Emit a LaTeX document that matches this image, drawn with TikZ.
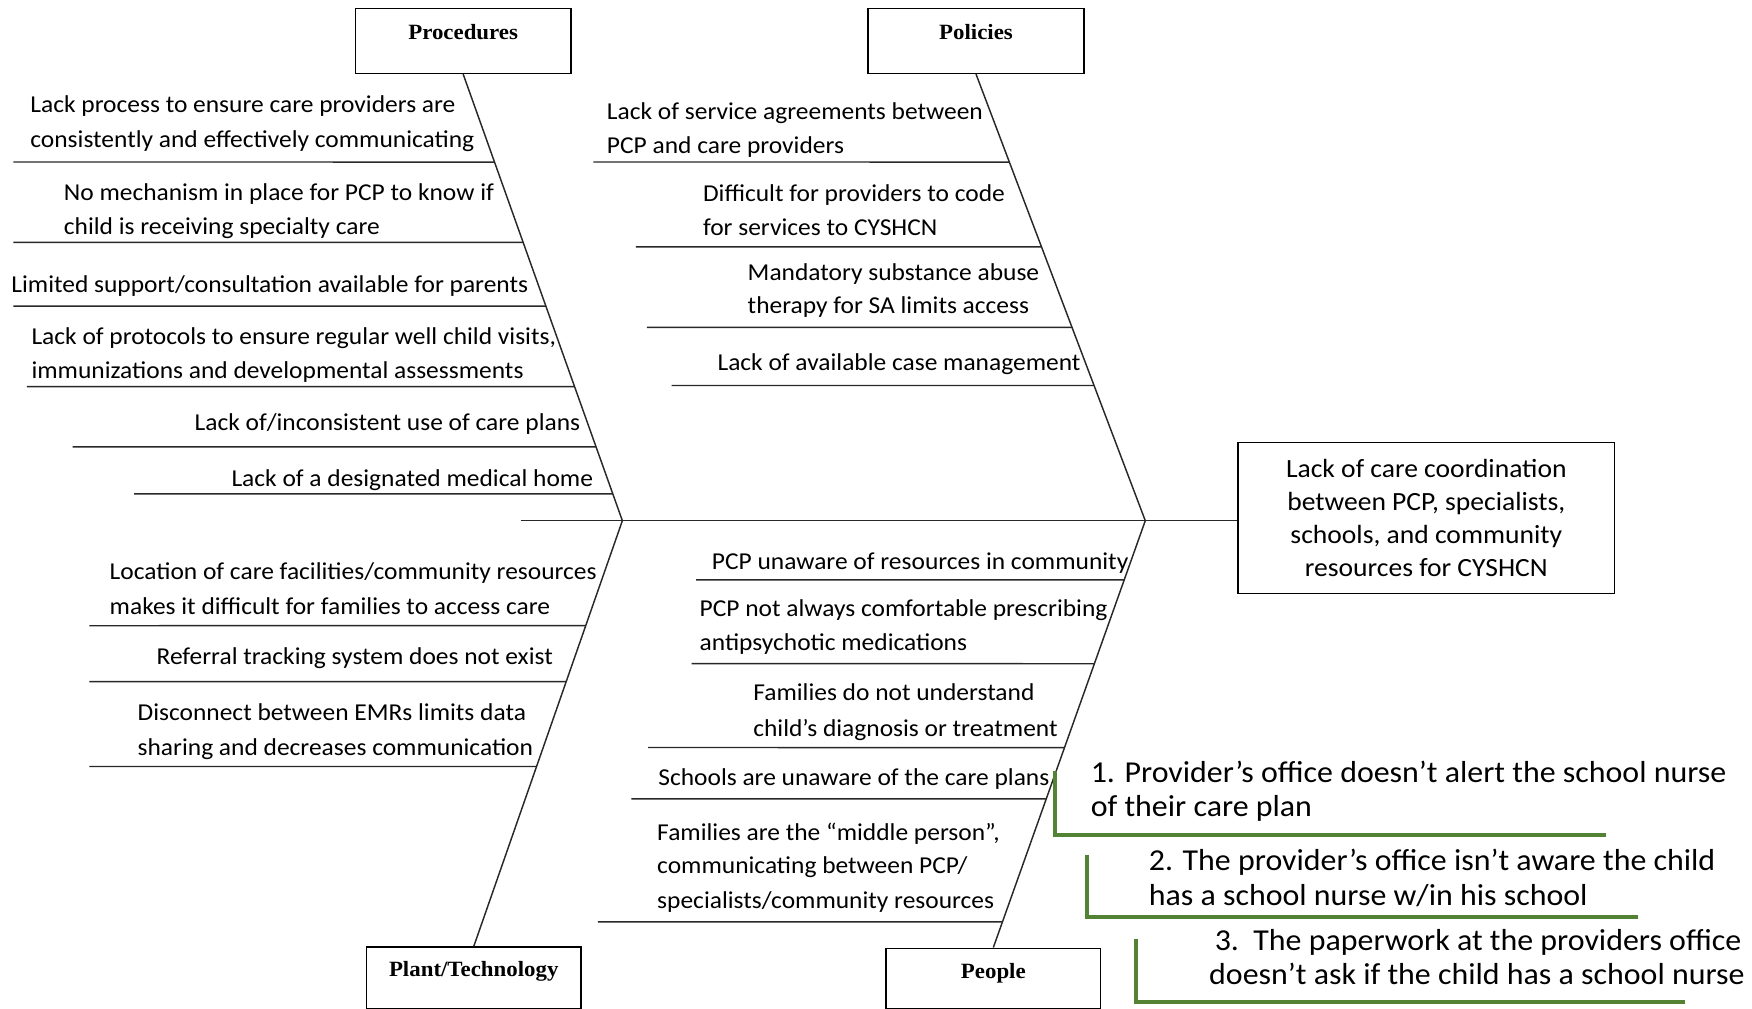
\documentclass[tikz,border=0pt]{standalone}
\usepackage{fontspec}
\setmainfont{Carlito}[FakeStretch=1.05]
\newfontfamily\tnrfont{Liberation Serif}[FakeStretch=1.05]
\definecolor{gannot}{RGB}{84,130,53}
\definecolor{boneclr}{RGB}{40,40,40}
\tikzset{
  bone/.style={line width=1.3pt, draw=boneclr},
  subline/.style={line width=1.3pt, draw=boneclr},
  txt/.style={anchor=base west, inner sep=0pt, font=\fontsize{21.7}{26}\selectfont},
  gtxt/.style={anchor=base west, inner sep=0pt, font=\fontsize{27.2}{31}\selectfont},
  catbox/.style={draw=black, line width=1.3pt, minimum width=193pt, inner xsep=0pt, inner ysep=0pt, anchor=north,
    font=\tnrfont\bfseries\fontsize{19.5}{22}\selectfont},
  gline/.style={draw=gannot, line width=3.8pt},
}
\begin{document}
\begin{tikzpicture}[x=1pt,y=-1pt]
\useasboundingbox (0,0) rectangle (1568,903);
\fill[white] (0,0) rectangle (1568,903);

% category boxes
\node[catbox, text height=27.5pt, text depth=30.5pt] (proc) at (414.5,7) {Procedures};
\node[catbox, text height=27.5pt, text depth=30.5pt] (pol) at (873.5,7) {Policies};
\node[catbox, minimum width=192pt, text height=26.5pt, text depth=29pt] (plant) at (424,847) {Plant/Technology};
\node[catbox, minimum width=192pt, text height=27.5pt, text depth=26.5pt] (people) at (889,848) {People};

% effect box
\node[draw=black, line width=1.3pt, minimum width=337pt, minimum height=135pt, align=center,
  font=\fontsize{23.5}{29.5}\selectfont] (eff) at (1276.5,463.5)
  {Lack of care coordination\\between PCP, specialists,\\schools, and community\\resources for CYSHCN};

% spine and bones
\coordinate (tail) at (466,466);
\coordinate (J1) at (557,466);
\coordinate (J2) at (1025,466);
\draw[bone] (tail) -- (tail -| eff.west);
\draw[bone] (proc.south) -- (J1);
\draw[bone] (pol.south) -- (J2);
\draw[bone] (plant.north) -- (J1);
\draw[bone] (people.north) -- (J2);

% sub lines
\foreach \y/\x [count=\i] in {145/12,217/12,274/12,346/24,400/65,442/120}{
  \coordinate (pa\i) at (\x,\y);
  \draw[subline] (pa\i) -- (intersection of proc.south--J1 and {0,\y}--{1,\y});
}
\foreach \y/\x [count=\i] in {145/531,221/569,293/579,345/601}{
  \coordinate (pb\i) at (\x,\y);
  \draw[subline] (pb\i) -- (intersection of pol.south--J2 and {0,\y}--{1,\y});
}
\foreach \y/\x [count=\i] in {560/80,610/80,686/80}{
  \coordinate (pc\i) at (\x,\y);
  \draw[subline] (pc\i) -- (intersection of plant.north--J1 and {0,\y}--{1,\y});
}
\foreach \y/\x [count=\i] in {519/623,594/619,669/580,715/565,825/535}{
  \coordinate (pd\i) at (\x,\y);
  \draw[subline] (pd\i) -- (intersection of people.north--J2 and {0,\y}--{1,\y});
}

% procedures causes
\node[txt] (a1a) at (27,101) {Lack process to ensure care providers are};
\node[txt] (a1b) at (27,132) {consistently and effectively communicating};
\node[txt] (a2a) at (57,179) {No mechanism in place for PCP to know if};
\node[txt] (a2b) at (57,210) {child is receiving specialty care};
\node[txt] (a3) at (10,262) {Limited support/consultation available for parents};
\node[txt] (a4a) at (28,308) {Lack of protocols to ensure regular well child visits,};
\node[txt] (a4b) at (28,339) {immunizations and developmental assessments};
\node[txt] (a5) at (174,385) {Lack of/inconsistent use of care plans};
\node[txt] (a6) at (207,435) {Lack of a designated medical home};

% policies causes
\node[txt] (b1a) at (543,107) {Lack of service agreements between};
\node[txt] (b1b) at (543,137) {PCP and care providers};
\node[txt] (b2a) at (629,180) {Difficult for providers to code};
\node[txt] (b2b) at (629,211) {for services to CYSHCN};
\node[txt] (b3a) at (669,251) {Mandatory substance abuse};
\node[txt] (b3b) at (669,281) {therapy for SA limits access};
\node[txt] (b4) at (642,332) {Lack of available case management};

% plant/technology causes
\node[txt] (c1a) at (98,519) {Location of care facilities/community resources};
\node[txt] (c1b) at (98,550) {makes it difficult for families to access care};
\node[txt] (c2) at (140,595) {Referral tracking system does not exist};
\node[txt] (c3a) at (123,645) {Disconnect between EMRs limits data};
\node[txt] (c3b) at (123,676) {sharing and decreases communication};

% people causes
\node[txt] (d1) at (637,510) {PCP unaware of resources in community};
\node[txt] (d2a) at (626,552) {PCP not always comfortable prescribing};
\node[txt] (d2b) at (626,582) {antipsychotic medications};
\node[txt] (d3a) at (674,627) {Families do not understand};
\node[txt] (d3b) at (674,659) {child’s diagnosis or treatment};
\node[txt] (d4) at (589,703) {Schools are unaware of the care plans};
\node[txt] (d5a) at (588,752) {Families are the “middle person”,};
\node[txt] (d5b) at (588,782) {communicating between PCP/};
\node[txt] (d5c) at (588,813) {specialists/community resources};

% green annotations
\coordinate (g1t) at (944,690); \coordinate (g1c) at (944,747); \coordinate (g1e) at (1437,747);
\coordinate (g2t) at (973,765); \coordinate (g2c) at (973,821); \coordinate (g2e) at (1466,821);
\coordinate (g3t) at (1017,840); \coordinate (g3c) at (1017,897); \coordinate (g3e) at (1508,897);
\draw[gline] (g1t) -- (g1c) -- (g1e);
\draw[gline] (g2t) -- (g2c) -- (g2e);
\draw[gline] (g3t) -- (g3c) -- (g3e);
\node[gtxt] (e1a) at (976,700) {1. Provider’s office doesn’t alert the school nurse};
\node[gtxt] (e1b) at (976,731) {of their care plan};
\node[gtxt] (e2a) at (1028,779) {2. The provider’s office isn’t aware the child};
\node[gtxt] (e2b) at (1028,810) {has a school nurse w/in his school};
\node[gtxt] (e3a) at (1087,851) {3.\ \ The paperwork at the providers office};
\node[gtxt] (e3b) at (1082,881) {doesn’t ask if the child has a school nurse};
\end{tikzpicture}
\end{document}
